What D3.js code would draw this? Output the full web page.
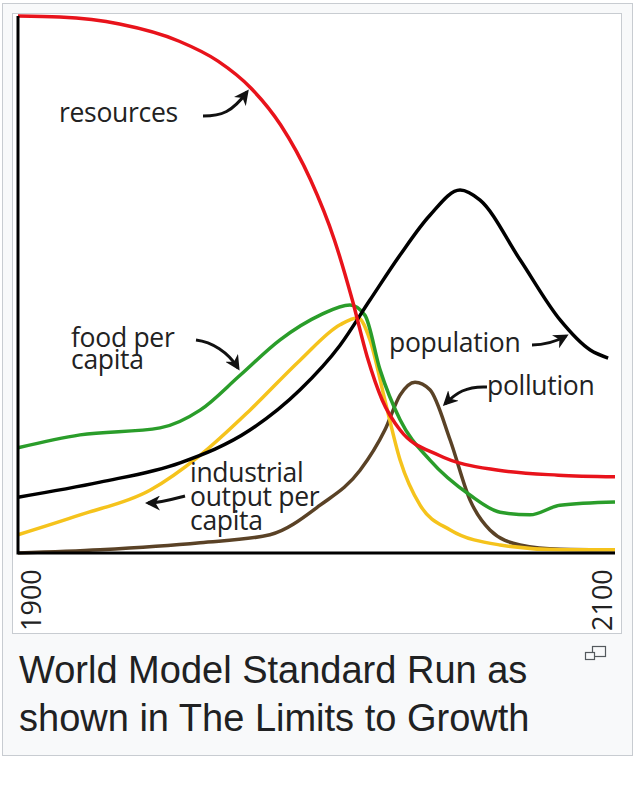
<!DOCTYPE html>
<html><head><meta charset="utf-8">
<script src="https://cdn.jsdelivr.net/npm/d3@7"></script>
<style>body{margin:0;background:#fff;}</style>
</head><body>
<script>
const resourcesYears = [1900,1914,1934,1954,1967,1978,1988,1998,2006,2012,2017,2022,2028,2041,2061,2081,2100];
const resourcesVals = [1.0,0.998,0.985,0.953,0.916,0.866,0.797,0.695,0.583,0.471,0.365,0.285,0.229,0.182,0.154,0.145,0.142];
const populationYears = [1900,1927.5,1954.3,1977.7,1994.5,2007.9,2017.9,2028,2038,2048.1,2054.8,2068.2,2081.6,2091.7,2097.7];
const populationVals = [0.104,0.132,0.168,0.229,0.304,0.387,0.471,0.555,0.629,0.676,0.657,0.546,0.434,0.378,0.363];
const foodYears = [1900,1920.8,1947.6,1961,1974.4,1987.8,2001.2,2011.2,2016.2,2021.3,2028,2038,2051.4,2061.5,2071.5,2081.6,2100];
const foodVals = [0.196,0.220,0.233,0.266,0.331,0.397,0.443,0.462,0.443,0.341,0.248,0.173,0.108,0.076,0.071,0.089,0.095];
const industryYears = [1900,1920.8,1944.2,1961,1977.7,1994.5,2007.9,2013.9,2017.9,2022.9,2028,2034.7,2044.8,2061.5,2081.6,2100];
const industryVals = [0.034,0.071,0.117,0.182,0.266,0.359,0.425,0.438,0.397,0.285,0.173,0.089,0.043,0.015,0.006,0.006];
const pollutionYears = [1900,1927.5,1961,1984.4,2001.2,2014.6,2022.9,2028,2033,2038,2044.8,2051.4,2058.1,2068.2,2081.6,2100];
const pollutionVals = [0,0.006,0.019,0.034,0.089,0.154,0.229,0.294,0.318,0.304,0.210,0.099,0.043,0.015,0.007,0.006];
const tickLabels = ["1900","2100"];

const W = 639, H = 786;
const svg = d3.select("body").append("svg").attr("width", W).attr("height", H);

// thumbnail frame
svg.append("rect").attr("x", 2.5).attr("y", 3.5).attr("width", 630).attr("height", 752)
  .attr("fill", "#f8f9fa").attr("stroke", "#c8ccd1");
svg.append("rect").attr("x", 12.5).attr("y", 13.5).attr("width", 609).attr("height", 620)
  .attr("fill", "#fff").attr("stroke", "#c8ccd1");

const x = d3.scaleLinear().domain([1900, 2100]).range([18, 615]);
const y = d3.scaleLinear().domain([0, 1]).range([553, 16]);

const defs = svg.append("defs");
defs.append("marker").attr("id", "ah").attr("viewBox", "0 0 10 10").attr("refX", 8).attr("refY", 5)
  .attr("markerWidth", 5).attr("markerHeight", 5).attr("orient", "auto")
  .append("path").attr("d", "M0,0L10,5L0,10L3,5Z").attr("fill", "#111");

const line = d3.line().x(d => x(d[0])).y(d => y(d[1])).curve(d3.curveMonotoneX);
const series = [
  [pollutionYears, pollutionVals, "#5a4226"],
  [industryYears, industryVals, "#f5c31c"],
  [foodYears, foodVals, "#2a9d2a"],
  [populationYears, populationVals, "#000"],
  [resourcesYears, resourcesVals, "#e8131b"]
];
svg.append("g").selectAll("path").data(series).join("path")
  .attr("d", s => line(d3.zip(s[0], s[1])))
  .attr("fill", "none").attr("stroke", s => s[2]).attr("stroke-width", 3.5)
  .attr("stroke-linejoin", "round");

// axes
svg.append("path").attr("d", `M${x(1900)},${y(1)}V${y(0)}H${x(2100)}`)
  .attr("fill", "none").attr("stroke", "#000").attr("stroke-width", 3);

svg.append("g").attr("font-family", "Open Sans").attr("font-size", 27).attr("fill", "#222")
  .selectAll("text").data(tickLabels).join("text")
  .attr("transform", (d, i) => `translate(${i ? 612 : 41},631) rotate(-90)`)
  .text(d => d);

// labels
const lab = svg.append("g").attr("font-family", "Open Sans").attr("font-size", 26.5)
  .attr("fill", "#222").attr("letter-spacing", -0.3);
[["resources", 59, 122], ["food per", 71, 347], ["capita", 71, 369], ["population", 389, 352],
 ["pollution", 487, 395], ["industrial", 190, 482], ["output per", 190, 506], ["capita", 190, 530]]
  .forEach(t => lab.append("text").attr("x", t[1]).attr("y", t[2]).text(t[0]));

const arrows = [
  "M203,116 C222,116 232,112 247,92",
  "M196,340 C212,342 228,352 238,368",
  "M532,345 C546,345 555,342 566,336",
  "M487,387 C466,386 456,393 445,404",
  "M185,496 C170,500 160,503 148,503"
];
svg.append("g").selectAll("path").data(arrows).join("path").attr("d", d => d)
  .attr("fill", "none").attr("stroke", "#111").attr("stroke-width", 3).attr("marker-end", "url(#ah)");

// caption
const cap = svg.append("g").attr("font-family", "Liberation Sans").attr("font-size", 38).attr("fill", "#202122");
cap.append("text").attr("x", 19).attr("y", 683).text("World Model Standard Run as");
cap.append("text").attr("x", 19).attr("y", 731).text("shown in The Limits to Growth");
svg.append("rect").attr("x", 592.5).attr("y", 646.5).attr("width", 13).attr("height", 10).attr("fill", "none").attr("stroke", "#54595d").attr("stroke-width", 1.2);
svg.append("rect").attr("x", 585.5).attr("y", 652.5).attr("width", 9).attr("height", 7).attr("fill", "#f8f9fa").attr("stroke", "#54595d").attr("stroke-width", 1.2);
</script>
</body></html>
